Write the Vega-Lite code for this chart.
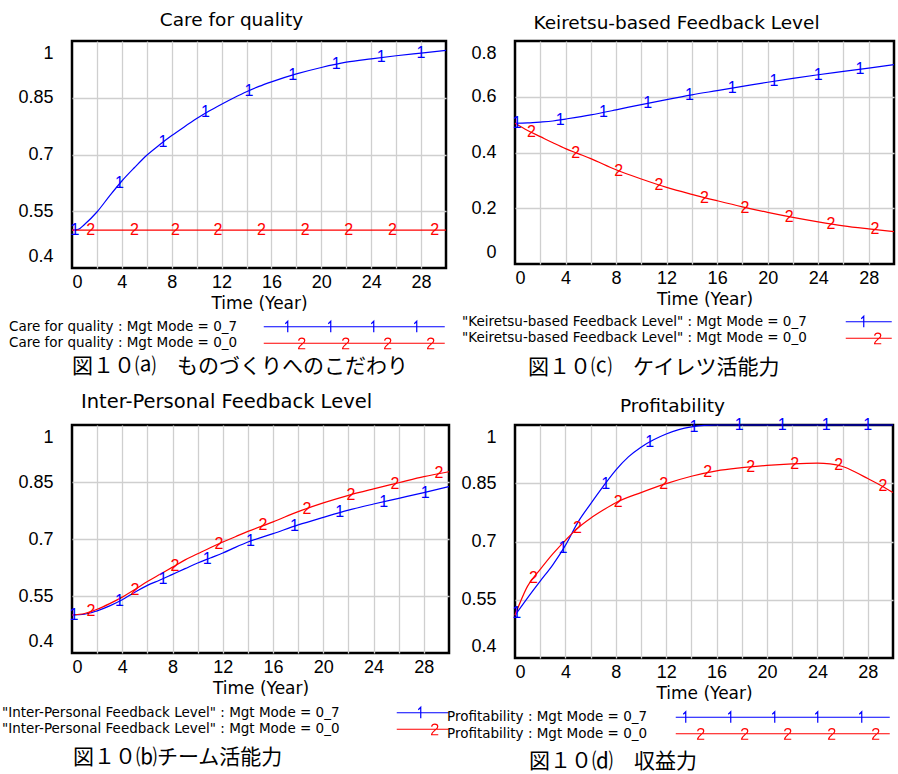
{
  "$schema": "https://vega.github.io/schema/vega-lite/v6.json",
  "background": "white",
  "padding": {"left": 0, "top": 8, "right": 0, "bottom": 0},
  "datasets": {
    "care": [
      {"t":0,"v":0.5,"run":"0_7"},{"t":0.5,"v":0.502,"run":"0_7"},{"t":1,"v":0.515,"run":"0_7"},{"t":2,"v":0.548,"run":"0_7"},{"t":3,"v":0.59,"run":"0_7"},{"t":4,"v":0.63,"run":"0_7"},{"t":5,"v":0.665,"run":"0_7"},{"t":6,"v":0.698,"run":"0_7"},{"t":7,"v":0.725,"run":"0_7"},{"t":8,"v":0.75,"run":"0_7"},{"t":9,"v":0.773,"run":"0_7"},{"t":10,"v":0.795,"run":"0_7"},{"t":11,"v":0.815,"run":"0_7"},{"t":12,"v":0.833,"run":"0_7"},{"t":13,"v":0.85,"run":"0_7"},{"t":14,"v":0.866,"run":"0_7"},{"t":15,"v":0.88,"run":"0_7"},{"t":16,"v":0.892,"run":"0_7"},{"t":18,"v":0.913,"run":"0_7"},{"t":20,"v":0.93,"run":"0_7"},{"t":22,"v":0.944,"run":"0_7"},{"t":24,"v":0.953,"run":"0_7"},{"t":26,"v":0.961,"run":"0_7"},{"t":28,"v":0.968,"run":"0_7"},{"t":30,"v":0.975,"run":"0_7"},
      {"t":0,"v":0.5,"run":"0_0"},{"t":10,"v":0.5,"run":"0_0"},{"t":20,"v":0.5,"run":"0_0"},{"t":30,"v":0.5,"run":"0_0"}
    ],
    "careMk": [
      {"t":0.24,"v":0.5,"digit":"1"},{"t":3.8,"v":0.624,"digit":"1"},{"t":7.3,"v":0.732,"digit":"1"},{"t":10.7,"v":0.813,"digit":"1"},{"t":14.2,"v":0.869,"digit":"1"},{"t":17.7,"v":0.911,"digit":"1"},{"t":21.2,"v":0.939,"digit":"1"},{"t":24.8,"v":0.957,"digit":"1"},{"t":28.0,"v":0.968,"digit":"1"},
      {"t":1.5,"v":0.5,"digit":"2"},{"t":5.0,"v":0.5,"digit":"2"},{"t":8.3,"v":0.5,"digit":"2"},{"t":11.7,"v":0.5,"digit":"2"},{"t":15.2,"v":0.5,"digit":"2"},{"t":18.7,"v":0.5,"digit":"2"},{"t":22.2,"v":0.5,"digit":"2"},{"t":25.7,"v":0.5,"digit":"2"},{"t":29.1,"v":0.5,"digit":"2"}
    ],
    "keir": [
      {"t":0,"v":0.505,"run":"0_7"},{"t":1,"v":0.506,"run":"0_7"},{"t":2,"v":0.509,"run":"0_7"},{"t":3,"v":0.513,"run":"0_7"},{"t":4,"v":0.52,"run":"0_7"},{"t":6,"v":0.535,"run":"0_7"},{"t":8,"v":0.553,"run":"0_7"},{"t":10,"v":0.572,"run":"0_7"},{"t":12,"v":0.59,"run":"0_7"},{"t":14,"v":0.607,"run":"0_7"},{"t":16,"v":0.622,"run":"0_7"},{"t":18,"v":0.637,"run":"0_7"},{"t":20,"v":0.652,"run":"0_7"},{"t":22,"v":0.666,"run":"0_7"},{"t":24,"v":0.679,"run":"0_7"},{"t":26,"v":0.691,"run":"0_7"},{"t":28,"v":0.703,"run":"0_7"},{"t":30,"v":0.715,"run":"0_7"},
      {"t":0,"v":0.505,"run":"0_0"},{"t":1,"v":0.479,"run":"0_0"},{"t":2,"v":0.457,"run":"0_0"},{"t":3,"v":0.435,"run":"0_0"},{"t":4,"v":0.414,"run":"0_0"},{"t":5,"v":0.396,"run":"0_0"},{"t":6,"v":0.378,"run":"0_0"},{"t":8,"v":0.338,"run":"0_0"},{"t":10,"v":0.305,"run":"0_0"},{"t":12,"v":0.275,"run":"0_0"},{"t":14,"v":0.25,"run":"0_0"},{"t":16,"v":0.227,"run":"0_0"},{"t":18,"v":0.205,"run":"0_0"},{"t":20,"v":0.185,"run":"0_0"},{"t":22,"v":0.167,"run":"0_0"},{"t":24,"v":0.151,"run":"0_0"},{"t":26,"v":0.137,"run":"0_0"},{"t":28,"v":0.126,"run":"0_0"},{"t":30,"v":0.116,"run":"0_0"}
    ],
    "keirMk": [
      {"t":0.16,"v":0.505,"digit":"1"},{"t":3.57,"v":0.516,"digit":"1"},{"t":7.0,"v":0.544,"digit":"1"},{"t":10.5,"v":0.578,"digit":"1"},{"t":13.8,"v":0.605,"digit":"1"},{"t":17.2,"v":0.631,"digit":"1"},{"t":20.5,"v":0.655,"digit":"1"},{"t":24.0,"v":0.679,"digit":"1"},{"t":27.3,"v":0.699,"digit":"1"},
      {"t":1.3,"v":0.472,"digit":"2"},{"t":4.8,"v":0.398,"digit":"2"},{"t":8.2,"v":0.334,"digit":"2"},{"t":11.4,"v":0.283,"digit":"2"},{"t":15.0,"v":0.238,"digit":"2"},{"t":18.2,"v":0.202,"digit":"2"},{"t":21.7,"v":0.169,"digit":"2"},{"t":25.0,"v":0.143,"digit":"2"},{"t":28.5,"v":0.124,"digit":"2"}
    ],
    "inter": [
      {"t":0,"v":0.5,"run":"0_7"},{"t":1,"v":0.502,"run":"0_7"},{"t":2,"v":0.511,"run":"0_7"},{"t":3,"v":0.524,"run":"0_7"},{"t":4,"v":0.54,"run":"0_7"},{"t":5,"v":0.56,"run":"0_7"},{"t":6,"v":0.578,"run":"0_7"},{"t":7,"v":0.592,"run":"0_7"},{"t":8,"v":0.607,"run":"0_7"},{"t":9,"v":0.622,"run":"0_7"},{"t":10,"v":0.637,"run":"0_7"},{"t":11,"v":0.65,"run":"0_7"},{"t":12,"v":0.663,"run":"0_7"},{"t":13,"v":0.678,"run":"0_7"},{"t":14,"v":0.692,"run":"0_7"},{"t":16,"v":0.714,"run":"0_7"},{"t":18,"v":0.737,"run":"0_7"},{"t":20,"v":0.757,"run":"0_7"},{"t":22,"v":0.776,"run":"0_7"},{"t":24,"v":0.792,"run":"0_7"},{"t":26,"v":0.807,"run":"0_7"},{"t":28,"v":0.822,"run":"0_7"},{"t":30,"v":0.838,"run":"0_7"},
      {"t":0,"v":0.5,"run":"0_0"},{"t":1,"v":0.504,"run":"0_0"},{"t":2,"v":0.515,"run":"0_0"},{"t":3,"v":0.53,"run":"0_0"},{"t":4,"v":0.547,"run":"0_0"},{"t":5,"v":0.567,"run":"0_0"},{"t":6,"v":0.588,"run":"0_0"},{"t":7,"v":0.607,"run":"0_0"},{"t":8,"v":0.626,"run":"0_0"},{"t":9,"v":0.645,"run":"0_0"},{"t":10,"v":0.661,"run":"0_0"},{"t":11,"v":0.677,"run":"0_0"},{"t":12,"v":0.692,"run":"0_0"},{"t":13,"v":0.706,"run":"0_0"},{"t":14,"v":0.72,"run":"0_0"},{"t":16,"v":0.745,"run":"0_0"},{"t":18,"v":0.772,"run":"0_0"},{"t":20,"v":0.795,"run":"0_0"},{"t":22,"v":0.815,"run":"0_0"},{"t":24,"v":0.832,"run":"0_0"},{"t":26,"v":0.848,"run":"0_0"},{"t":28,"v":0.864,"run":"0_0"},{"t":30,"v":0.877,"run":"0_0"}
    ],
    "interMk": [
      {"t":0.16,"v":0.5,"digit":"1"},{"t":3.77,"v":0.537,"digit":"1"},{"t":7.24,"v":0.595,"digit":"1"},{"t":10.75,"v":0.647,"digit":"1"},{"t":14.2,"v":0.695,"digit":"1"},{"t":17.7,"v":0.734,"digit":"1"},{"t":21.3,"v":0.77,"digit":"1"},{"t":24.8,"v":0.798,"digit":"1"},{"t":28.1,"v":0.822,"digit":"1"},
      {"t":1.5,"v":0.51,"digit":"2"},{"t":5.0,"v":0.567,"digit":"2"},{"t":8.2,"v":0.63,"digit":"2"},{"t":11.7,"v":0.688,"digit":"2"},{"t":15.2,"v":0.736,"digit":"2"},{"t":18.7,"v":0.78,"digit":"2"},{"t":22.2,"v":0.816,"digit":"2"},{"t":25.7,"v":0.845,"digit":"2"},{"t":29.2,"v":0.873,"digit":"2"}
    ],
    "prof": [
      {"t":0,"v":0.51,"run":"0_7"},{"t":1,"v":0.555,"run":"0_7"},{"t":2,"v":0.598,"run":"0_7"},{"t":3,"v":0.64,"run":"0_7"},{"t":4,"v":0.69,"run":"0_7"},{"t":5,"v":0.75,"run":"0_7"},{"t":6,"v":0.797,"run":"0_7"},{"t":7,"v":0.842,"run":"0_7"},{"t":8,"v":0.884,"run":"0_7"},{"t":9,"v":0.918,"run":"0_7"},{"t":10,"v":0.943,"run":"0_7"},{"t":11,"v":0.962,"run":"0_7"},{"t":12,"v":0.977,"run":"0_7"},{"t":13,"v":0.988,"run":"0_7"},{"t":14,"v":0.995,"run":"0_7"},{"t":15,"v":0.999,"run":"0_7"},{"t":16,"v":1,"run":"0_7"},{"t":20,"v":1,"run":"0_7"},{"t":24,"v":1,"run":"0_7"},{"t":28,"v":1,"run":"0_7"},{"t":30,"v":1,"run":"0_7"},
      {"t":0,"v":0.51,"run":"0_0"},{"t":1,"v":0.585,"run":"0_0"},{"t":2,"v":0.628,"run":"0_0"},{"t":3,"v":0.668,"run":"0_0"},{"t":4,"v":0.703,"run":"0_0"},{"t":5,"v":0.735,"run":"0_0"},{"t":6,"v":0.76,"run":"0_0"},{"t":7,"v":0.781,"run":"0_0"},{"t":8,"v":0.8,"run":"0_0"},{"t":10,"v":0.826,"run":"0_0"},{"t":12,"v":0.849,"run":"0_0"},{"t":14,"v":0.868,"run":"0_0"},{"t":16,"v":0.882,"run":"0_0"},{"t":18,"v":0.89,"run":"0_0"},{"t":20,"v":0.896,"run":"0_0"},{"t":22,"v":0.9,"run":"0_0"},{"t":24,"v":0.902,"run":"0_0"},{"t":25,"v":0.9,"run":"0_0"},{"t":26,"v":0.893,"run":"0_0"},{"t":27,"v":0.879,"run":"0_0"},{"t":28,"v":0.862,"run":"0_0"},{"t":29,"v":0.845,"run":"0_0"},{"t":30,"v":0.826,"run":"0_0"}
    ],
    "profMk": [
      {"t":0.13,"v":0.515,"digit":"1"},{"t":3.8,"v":0.684,"digit":"1"},{"t":7.2,"v":0.848,"digit":"1"},{"t":10.7,"v":0.957,"digit":"1"},{"t":14.2,"v":0.996,"digit":"1"},{"t":17.8,"v":1,"digit":"1"},{"t":21.2,"v":1,"digit":"1"},{"t":24.7,"v":1,"digit":"1"},{"t":28.0,"v":1,"digit":"1"},
      {"t":1.46,"v":0.606,"digit":"2"},{"t":4.96,"v":0.736,"digit":"2"},{"t":8.2,"v":0.801,"digit":"2"},{"t":11.8,"v":0.848,"digit":"2"},{"t":15.3,"v":0.879,"digit":"2"},{"t":18.7,"v":0.892,"digit":"2"},{"t":22.2,"v":0.9,"digit":"2"},{"t":25.7,"v":0.896,"digit":"2"},{"t":29.2,"v":0.842,"digit":"2"}
    ]
  },
  "concat": [
    {
      "width": 374, "height": 227,
      "title": {"text": "図１０⒜　ものづくりへのこだわり", "orient": "bottom", "anchor": "start", "frame": "group", "offset": 4, "dx": 0, "font": "Noto Sans CJK JP", "fontSize": 21},
      "resolve": {"axis": {"x": "independent"}},
      "layer": [
        {
          "data": {"name": "care"},
          "mark": {"type": "line", "strokeWidth": 1.2, "interpolate": "monotone"},
          "encoding": {
            "x": {"field": "t", "type": "quantitative", "scale": {"domain": [0, 30], "nice": false, "zero": false},
              "axis": {"title": "Time (Year)", "values": [0,2,4,6,8,10,12,14,16,18,20,22,24,26,28], "labelExpr": "datum.value % 4 === 0 ? datum.label : ''", "labelOverlap": false, "gridOpacity": {"condition": {"test": "datum.value === 0", "value": 0}, "value": 1}}},
            "y": {"field": "v", "type": "quantitative", "scale": {"domain": [0.4, 1], "nice": false, "zero": false},
              "axis": {"title": null, "values": [0.4, 0.55, 0.7, 0.85, 1], "format": ".2~f", "labelOverlap": false, "gridOpacity": {"condition": {"test": "datum.value === 0.4 || datum.value === 1", "value": 0}, "value": 1}}},
            "color": {"field": "run", "type": "nominal", "scale": {"domain": ["0_7", "0_0"], "range": ["#0000ff", "#ff0000"]},
              "legend": {"title": null, "legendX": -63, "legendY": 279,
                "labelExpr": "'Care for quality : Mgt Mode = ' + datum.label",
                "encode": {"symbols": {"update": {"shape": {"signal": "datum.value === '0_7' ? 'M248,0H429M269.5,-3L272,-5.5V5.5M312.5,-3L315,-5.5V5.5M355.5,-3L358,-5.5V5.5M398.5,-3L401,-5.5V5.5' : 'M248,0H429M283,-2.5C283,-6 289,-6 289,-2.5C289,0 283,2 282.8,5.5H289.5M327,-2.5C327,-6 333,-6 333,-2.5C333,0 327,2 326.8,5.5H333.5M369,-2.5C369,-6 375,-6 375,-2.5C375,0 369,2 368.8,5.5H375.5M412,-2.5C412,-6 418,-6 418,-2.5C418,0 412,2 411.8,5.5H418.5'"}}}}}}
          }
        },
        {
          "data": {"name": "careMk"},
          "mark": {"type": "text", "font": "Liberation Sans", "fontSize": 16, "baseline": "middle", "align": "center"},
          "encoding": {
            "x": {"field": "t", "type": "quantitative", "axis": {"orient": "top", "title": "Care for quality", "labels": false, "grid": false, "titleX": 159, "titleY": -22, "titleBaseline": "middle", "titleFont": "DejaVu Sans", "titleFontSize": 18.5}},
            "y": {"field": "v", "type": "quantitative"},
            "text": {"field": "digit"},
            "color": {"condition": {"test": "datum.digit === '1'", "value": "#0000ff"}, "value": "#ff0000"}
          }
        }
      ]
    },
    {
      "width": 379, "height": 223,
      "title": {"text": "図１０⒞　ケイレツ活能力", "orient": "bottom", "anchor": "start", "frame": "group", "offset": 10, "dx": 13, "font": "Noto Sans CJK JP", "fontSize": 21},
      "resolve": {"axis": {"x": "independent"}},
      "layer": [
        {
          "data": {"name": "keir"},
          "mark": {"type": "line", "strokeWidth": 1.2, "interpolate": "monotone"},
          "encoding": {
            "x": {"field": "t", "type": "quantitative", "scale": {"domain": [0, 30], "nice": false, "zero": false},
              "axis": {"title": "Time (Year)", "values": [0,2,4,6,8,10,12,14,16,18,20,22,24,26,28], "labelExpr": "datum.value % 4 === 0 ? datum.label : ''", "labelOverlap": false, "gridOpacity": {"condition": {"test": "datum.value === 0", "value": 0}, "value": 1}}},
            "y": {"field": "v", "type": "quantitative", "scale": {"domain": [0, 0.8], "nice": false, "zero": false},
              "axis": {"title": null, "values": [0, 0.2, 0.4, 0.6, 0.8], "format": ".2~f", "labelOverlap": false, "gridOpacity": {"condition": {"test": "datum.value === 0 || datum.value === 0.8", "value": 0}, "value": 1}}},
            "color": {"field": "run", "type": "nominal", "scale": {"domain": ["0_7", "0_0"], "range": ["#0000ff", "#ff0000"]},
              "legend": {"title": null, "legendX": -53, "legendY": 274,
                "labelExpr": "'\"Keiretsu-based Feedback Level\" : Mgt Mode = ' + datum.label",
                "encode": {"symbols": {"update": {"shape": {"signal": "datum.value === '0_7' ? 'M377,0H423M392.5,-3L395,-5.5V5.5' : 'M377,0H423M406,-2.5C406,-6 412,-6 412,-2.5C412,0 406,2 405.8,5.5H412.5'"}}}}}}
          }
        },
        {
          "data": {"name": "keirMk"},
          "mark": {"type": "text", "font": "Liberation Sans", "fontSize": 16, "baseline": "middle", "align": "center"},
          "encoding": {
            "x": {"field": "t", "type": "quantitative", "axis": {"orient": "top", "title": "Keiretsu-based Feedback Level", "labels": false, "grid": false, "titleX": 161, "titleY": -19, "titleBaseline": "middle", "titleFont": "DejaVu Sans", "titleFontSize": 18.5}},
            "y": {"field": "v", "type": "quantitative"},
            "text": {"field": "digit"},
            "color": {"condition": {"test": "datum.digit === '1'", "value": "#0000ff"}, "value": "#ff0000"}
          }
        }
      ]
    },
    {
      "width": 377, "height": 228,
      "title": {"text": "図１０⒝チーム活能力", "orient": "bottom", "anchor": "start", "frame": "group", "offset": 9, "dx": 1, "font": "Noto Sans CJK JP", "fontSize": 21},
      "resolve": {"axis": {"x": "independent"}},
      "layer": [
        {
          "data": {"name": "inter"},
          "mark": {"type": "line", "strokeWidth": 1.2, "interpolate": "monotone"},
          "encoding": {
            "x": {"field": "t", "type": "quantitative", "scale": {"domain": [0, 30], "nice": false, "zero": false},
              "axis": {"title": "Time (Year)", "values": [0,2,4,6,8,10,12,14,16,18,20,22,24,26,28], "labelExpr": "datum.value % 4 === 0 ? datum.label : ''", "labelOverlap": false, "gridOpacity": {"condition": {"test": "datum.value === 0", "value": 0}, "value": 1}}},
            "y": {"field": "v", "type": "quantitative", "scale": {"domain": [0.4, 1], "nice": false, "zero": false},
              "axis": {"title": null, "values": [0.4, 0.55, 0.7, 0.85, 1], "format": ".2~f", "labelOverlap": false, "gridOpacity": {"condition": {"test": "datum.value === 0.4 || datum.value === 1", "value": 0}, "value": 1}}},
            "color": {"field": "run", "type": "nominal", "scale": {"domain": ["0_7", "0_0"], "range": ["#0000ff", "#ff0000"]},
              "legend": {"title": null, "legendX": -70, "legendY": 281,
                "labelExpr": "'\"Inter-Personal Feedback Level\" : Mgt Mode = ' + datum.label",
                "encode": {"symbols": {"update": {"shape": {"signal": "datum.value === '0_7' ? 'M388,0H440M409.5,-3L412,-5.5V5.5' : 'M388,0H440M423,-2.5C423,-6 429,-6 429,-2.5C429,0 423,2 422.8,5.5H429.5'"}}}}}}
          }
        },
        {
          "data": {"name": "interMk"},
          "mark": {"type": "text", "font": "Liberation Sans", "fontSize": 16, "baseline": "middle", "align": "center"},
          "encoding": {
            "x": {"field": "t", "type": "quantitative", "axis": {"orient": "top", "title": "Inter-Personal Feedback Level", "labels": false, "grid": false, "titleX": 154, "titleY": -24, "titleBaseline": "middle", "titleFont": "DejaVu Sans", "titleFontSize": 19.5}},
            "y": {"field": "v", "type": "quantitative"},
            "text": {"field": "digit"},
            "color": {"condition": {"test": "datum.digit === '1'", "value": "#0000ff"}, "value": "#ff0000"}
          }
        }
      ]
    },
    {
      "width": 378, "height": 233,
      "title": {"text": "図１０⒟　収益力", "orient": "bottom", "anchor": "start", "frame": "group", "offset": 8, "dx": 14, "font": "Noto Sans CJK JP", "fontSize": 21},
      "resolve": {"axis": {"x": "independent"}},
      "layer": [
        {
          "data": {"name": "prof"},
          "mark": {"type": "line", "strokeWidth": 1.2, "interpolate": "monotone"},
          "encoding": {
            "x": {"field": "t", "type": "quantitative", "scale": {"domain": [0, 30], "nice": false, "zero": false},
              "axis": {"title": "Time (Year)", "values": [0,2,4,6,8,10,12,14,16,18,20,22,24,26,28], "labelExpr": "datum.value % 4 === 0 ? datum.label : ''", "labelOverlap": false, "gridOpacity": {"condition": {"test": "datum.value === 0", "value": 0}, "value": 1}}},
            "y": {"field": "v", "type": "quantitative", "scale": {"domain": [0.4, 1], "nice": false, "zero": false},
              "axis": {"title": null, "values": [0.4, 0.55, 0.7, 0.85, 1], "format": ".2~f", "labelOverlap": false, "gridOpacity": {"condition": {"test": "datum.value === 0.4 || datum.value === 1", "value": 0}, "value": 1}}},
            "color": {"field": "run", "type": "nominal", "scale": {"domain": ["0_7", "0_0"], "range": ["#0000ff", "#ff0000"]},
              "legend": {"title": null, "legendX": -68, "legendY": 285.5,
                "labelExpr": "'Profitability : Mgt Mode = ' + datum.label",
                "encode": {"symbols": {"update": {"shape": {"signal": "datum.value === '0_7' ? 'M222,0H436M229.5,-3L232,-5.5V5.5M274.5,-3L277,-5.5V5.5M318.5,-3L321,-5.5V5.5M361.5,-3L364,-5.5V5.5M405.5,-3L408,-5.5V5.5' : 'M222,0H436M244,-2.5C244,-6 250,-6 250,-2.5C250,0 244,2 243.8,5.5H250.5M288,-2.5C288,-6 294,-6 294,-2.5C294,0 288,2 287.8,5.5H294.5M331,-2.5C331,-6 337,-6 337,-2.5C337,0 331,2 330.8,5.5H337.5M375,-2.5C375,-6 381,-6 381,-2.5C381,0 375,2 374.8,5.5H381.5M419,-2.5C419,-6 425,-6 425,-2.5C425,0 419,2 418.8,5.5H425.5'"}}}}}}
          }
        },
        {
          "data": {"name": "profMk"},
          "mark": {"type": "text", "font": "Liberation Sans", "fontSize": 16, "baseline": "middle", "align": "center"},
          "encoding": {
            "x": {"field": "t", "type": "quantitative", "axis": {"orient": "top", "title": "Profitability", "labels": false, "grid": false, "titleX": 157, "titleY": -20, "titleBaseline": "middle", "titleFont": "DejaVu Sans", "titleFontSize": 18.5}},
            "y": {"field": "v", "type": "quantitative"},
            "text": {"field": "digit"},
            "color": {"condition": {"test": "datum.digit === '1'", "value": "#0000ff"}, "value": "#ff0000"}
          }
        }
      ]
    }
  ],
  "columns": 2,
  "spacing": {"row": 157, "column": 66},
  "bounds": "flush",
  "resolve": {"scale": {"color": "independent"}, "legend": {"color": "independent"}},
  "config": {
    "view": {"stroke": "black", "strokeWidth": 2.5},
    "axis": {"domain": false, "ticks": false, "gridColor": "#cfcfcf", "gridWidth": 1.3, "labelFont": "Liberation Sans", "labelFontSize": 18, "labelColor": "black", "titleFont": "DejaVu Sans", "titleFontSize": 17, "titleFontWeight": "normal", "titleColor": "black"},
    "axisX": {"labelPadding": 5, "titlePadding": 4},
    "axisY": {"labelPadding": 19, "labelFlush": true, "labelFlushOffset": -3},
    "title": {"font": "DejaVu Sans", "fontSize": 18.5, "fontWeight": "normal", "color": "black"},
    "legend": {"orient": "none", "direction": "vertical", "padding": 0, "labelFont": "DejaVu Sans", "labelFontSize": 13.5, "labelColor": "black", "labelAlign": "left", "labelOffset": -13.5, "labelLimit": 500, "symbolSize": 4, "symbolStrokeWidth": 1.2, "symbolFillColor": "transparent", "rowPadding": 0.5}
  }
}
